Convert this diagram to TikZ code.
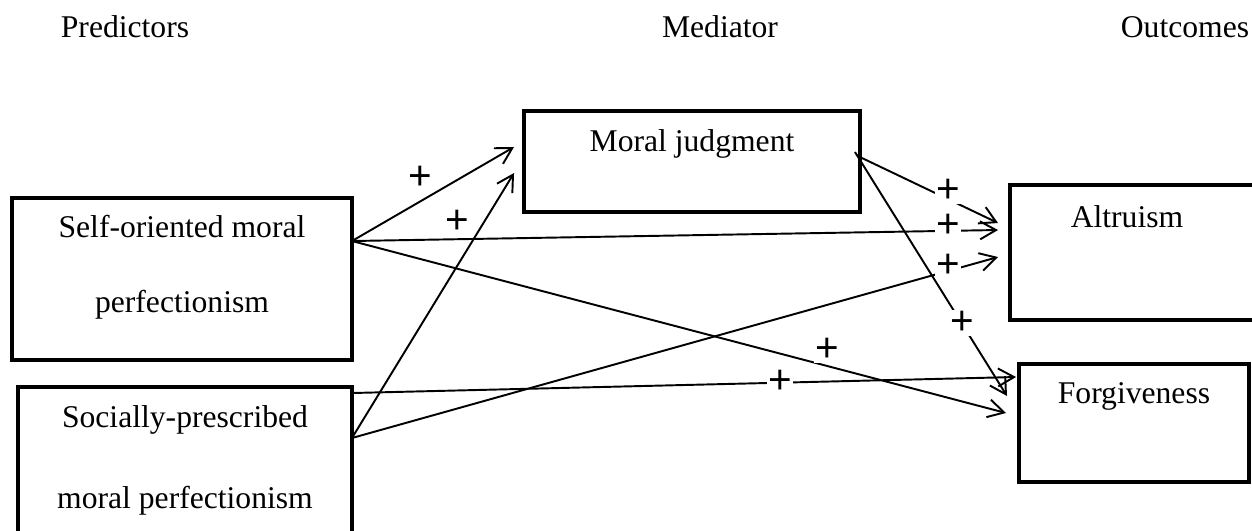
\documentclass[tikz,border=0pt]{standalone}
\usepackage{fontspec}
\setmainfont{Liberation Serif}
\setsansfont{Liberation Sans}
\usepackage{tikz}
\usetikzlibrary{arrows.meta, positioning, calc}

\begin{document}
\begin{tikzpicture}[x=0.02cm, y=-0.02cm,
    every node/.style={font=\fontsize{18}{22}\selectfont},
    varbox/.style={draw, line width=2.4pt, inner sep=0pt, outer sep=0pt},
    link/.style={line width=1.1pt, -{Straight Barb[length=3.2mm, width=3.6mm]}},
    sign/.style={fill=white, inner sep=0.5pt, font=\fontsize{23}{26}\sffamily}]
    \useasboundingbox (0,0) rectangle (1252,531);

    % Column headings
    \node[anchor=base] (predhead) at (125,37) {Predictors};
    \node[anchor=base] (medhead) at (720,37) {Mediator};
    \node[anchor=base] (outhead) at (1185,37) {Outcomes};

    % Variable boxes
    \node[varbox, minimum width=6.8cm, minimum height=3.24cm] (self) at (182,279) {};
    \node[varbox, minimum width=6.68cm, minimum height=3.16cm] (social) at (185,466) {};
    \node[varbox, minimum width=6.72cm, minimum height=2.02cm] (mj) at (692,161.5) {};
    \node[varbox, minimum width=5.1cm, minimum height=2.7cm] (alt) at (1137.5,252.5) {};
    \node[varbox, minimum width=4.6cm, minimum height=2.36cm] (forg) at (1134,423) {};

    % Box texts
    \node[anchor=base] (selfline1) at (182,237) {Self-oriented moral};
    \node[anchor=base] (selfline2) at (182,312) {perfectionism};
    \node[anchor=base] (socline1) at (185,427) {Socially-prescribed};
    \node[anchor=base] (socline2) at (185,508) {moral perfectionism};
    \node[anchor=base] (mjtext) at (692,151) {Moral judgment};
    \node[anchor=base] (alttext) at (1127,227) {Altruism};
    \node[anchor=base] (forgtext) at (1134,403) {Forgiveness};

    % Ports
    \coordinate (selfout) at ($(self.north east)+(0,43)$);
    \coordinate (socout1) at ($(social.north east)+(0,6)$);
    \coordinate (socout2) at ($(social.north east)+(0,51)$);
    \coordinate (mjout1) at ($(mj.north east)+(2,47)$);
    \coordinate (mjout2) at ($(mj.north east)+(-5,41)$);
    \coordinate (mjin1) at ($(mj.north west)+(-10,36)$);
    \coordinate (mjin2) at ($(mj.north west)+(-10,62)$);
    \coordinate (altin1) at ($(alt.north west)+(-12,38)$);
    \coordinate (altin2) at ($(alt.north west)+(-12,45)$);
    \coordinate (altin3) at ($(alt.north west)+(-12,72)$);
    \coordinate (forgin1) at ($(forg.north west)+(-3,13)$);
    \coordinate (forgin2) at ($(forg.north west)+(-12,32)$);
    \coordinate (forgin3) at ($(forg.north west)+(-13,49)$);

    % Paths
    \draw[link] (selfout) -- (mjin1);
    \draw[link] (socout2) -- (mjin2);
    \draw[link] (selfout) -- (altin2);
    \draw[link] (socout2) -- (altin3);
    \draw[link] (mjout1) -- (altin1);
    \draw[link] (mjout2) -- (forgin2);
    \draw[link] (selfout) -- (forgin3);
    \draw[link] (socout1) -- (forgin1);

    % Signs
    \node[sign] (p1) at (420,178) {+};
    \node[sign] (p2) at (457,222) {+};
    \node[sign] (p3) at (948,191) {+};
    \node[sign] (p4) at (948,226) {+};
    \node[sign] (p5) at (948,266) {+};
    \node[sign] (p6) at (962,323) {+};
    \node[sign] (p7) at (827,350) {+};
    \node[sign] (p8) at (780,382) {+};
\end{tikzpicture}
\end{document}
